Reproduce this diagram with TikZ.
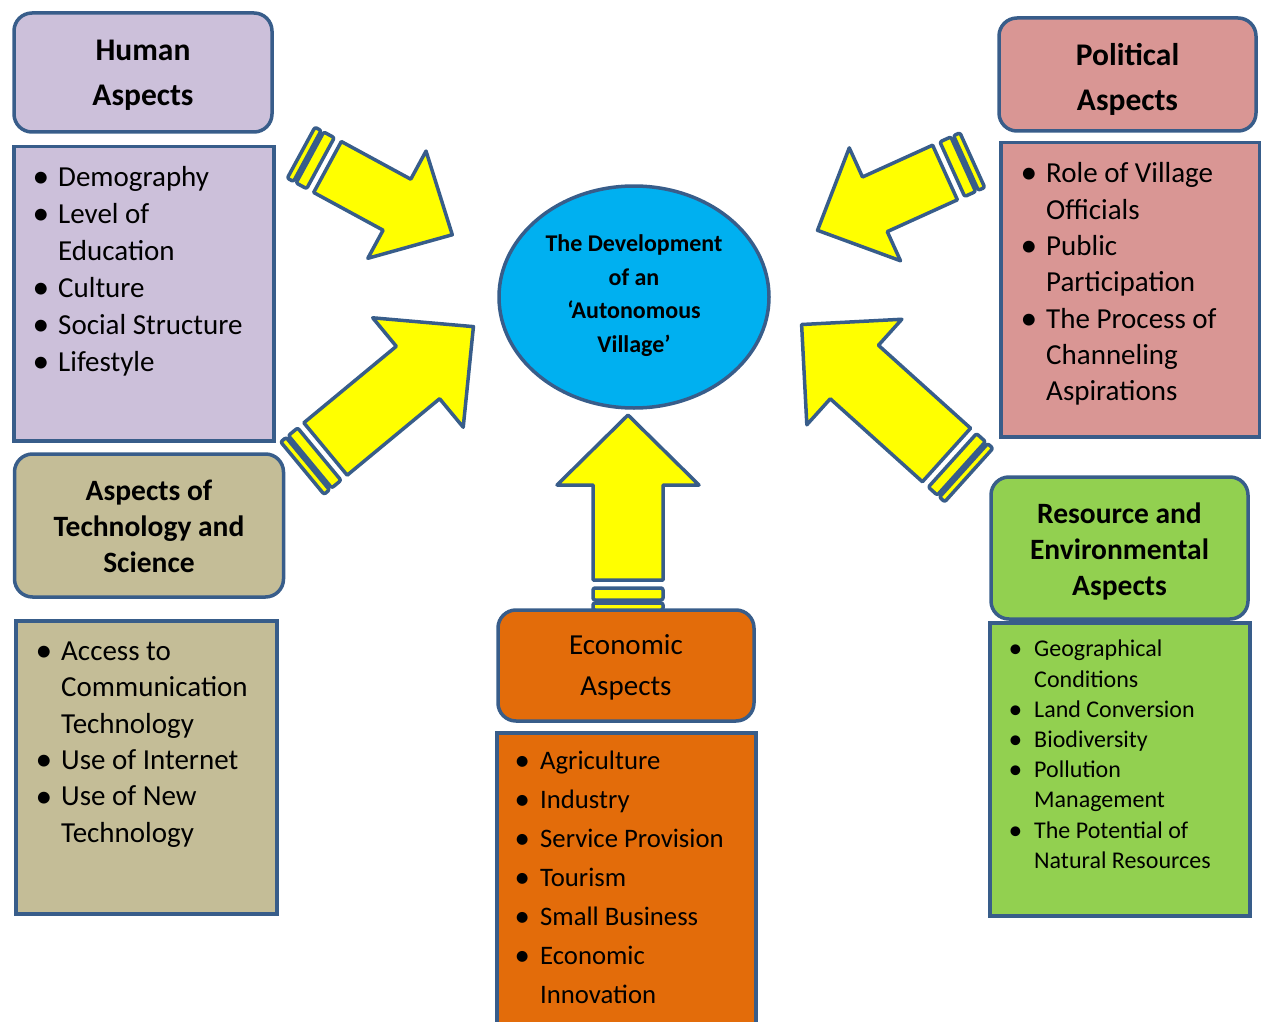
\documentclass[tikz,border=0pt]{standalone}
\usepackage{fontspec}
\setmainfont{Carlito}
\usetikzlibrary{shapes.geometric}
\definecolor{edgeblue}{RGB}{56,93,138}
\definecolor{humanfill}{RGB}{204,192,218}
\definecolor{polfill}{RGB}{217,150,148}
\definecolor{techfill}{RGB}{196,189,151}
\definecolor{resfill}{RGB}{146,208,80}
\definecolor{ecofill}{RGB}{227,108,10}
\definecolor{villagefill}{RGB}{0,176,240}
\definecolor{arrowfill}{RGB}{255,255,0}

\newcommand{\bul}{\makebox[22pt][l]{\hspace*{-3.5pt}\raisebox{-0.04em}{\scalebox{1.15}{\textbullet}}}}
\newcommand{\ind}{\hspace*{22pt}}
% block arrow: tail x, tail y, angle, length, shaft half, head half, head length
\newcommand{\yarrow}[7]{%
  \begin{scope}[shift={(#1,#2)},rotate=#3]
    \draw[arrowline] (0,-#5) -- ({#4-#7},-#5) -- ({#4-#7},-#6) -- (#4,0)
      -- ({#4-#7},#6) -- ({#4-#7},#5) -- (0,#5) -- cycle;
    \draw[arrowline,rounded corners=2pt] (-8,-#5) rectangle (-20,#5);
    \draw[arrowline,rounded corners=2pt] (-23,-#5) rectangle (-30,#5);
  \end{scope}}

\tikzset{
  headbox/.style={draw=edgeblue, line width=3.5pt, rounded corners=18pt, inner sep=0pt},
  headtext/.style={align=center, inner sep=0pt, font=\bfseries\fontsize{31.5}{45}\selectfont},
  listbox/.style={draw=edgeblue, line width=3.5pt, inner sep=0pt, anchor=north west},
  listtext/.style={anchor=north west, align=left, inner sep=0pt, font=\fontsize{29}{37}\selectfont},
  arrowline/.style={draw=edgeblue, fill=arrowfill, line width=3.5pt, line join=round},
}

\begin{document}
\begin{tikzpicture}[x=1pt,y=-1pt]
  \useasboundingbox (0,0) rectangle (1261,1022);
  \clip (0,0) rectangle (1261,1022);

  % list boxes
  \node[listbox, fill=humanfill, minimum width=260, minimum height=294] (humanbox) at (12,145) {};
  \node[listbox, fill=polfill, minimum width=259, minimum height=294] (polbox) at (999,141) {};
  \node[listbox, fill=techfill, minimum width=261, minimum height=293] (techbox) at (14,619) {};
  \node[listbox, fill=resfill, minimum width=260, minimum height=293] (resbox) at (988,621) {};
  \node[listbox, fill=ecofill, minimum width=259, minimum height=320] (ecobox) at (495,731) {};

  % headers
  \node[headbox, fill=humanfill, minimum width=258, minimum height=119] (humanhead) at (143,72.5) {};
  \node[headbox, fill=polfill, minimum width=257, minimum height=113] (polhead) at (1127.5,74.5) {};
  \node[headbox, fill=techfill, minimum width=269, minimum height=143] (techhead) at (149,525.5) {};
  \node[headbox, fill=resfill, minimum width=257, minimum height=142] (reshead) at (1119.5,548) {};
  \node[headbox, fill=ecofill, minimum width=256, minimum height=111] (ecohead) at (626,665.5) {};

  \node[headtext] (humantitle) at ([yshift=-3pt]humanhead.center) {Human\\Aspects};
  \node[headtext] (poltitle) at ([yshift=-5pt]polhead.center) {Political\\Aspects};
  \node[headtext, font=\bfseries\fontsize{29.5}{36}\selectfont] (techtitle) at ([yshift=-0.5pt]techhead.center) {Aspects of\\Technology and\\Science};
  \node[headtext, font=\bfseries\fontsize{29.5}{36}\selectfont] (restitle) at ([yshift=-3.5pt]reshead.center) {Resource and\\Environmental\\Aspects};
  \node[headtext, font=\fontsize{29}{41}\selectfont] (ecotitle) at ([yshift=-2pt]ecohead.center) {Economic\\Aspects};

  % centre
  \node[ellipse, draw=edgeblue, line width=3.5pt, fill=villagefill, minimum width=270, minimum height=222,
    inner sep=0pt] (village) at (634,297) {};
  \node[align=center, inner sep=0pt, font=\bfseries\fontsize{24}{33.5}\selectfont] (villagetext)
    at ([yshift=1.5pt]village.center) {The Development\\of an\\‘Autonomous\\Village’};

  % list texts
  \node[listtext] (humanlist) at (36,166.5) {\bul Demography\\\bul Level of\\\ind Education\\\bul Culture\\\bul Social Structure\\\bul Lifestyle};
  \node[listtext, font=\fontsize{29}{36.3}\selectfont] (pollist) at (1024,162.5) {\bul Role of Village\\\ind Officials\\\bul Public\\\ind Participation\\\bul The Process of\\\ind Channeling\\\ind Aspirations};
  \node[listtext, font=\fontsize{29}{36.4}\selectfont] (techlist) at (39,641.5) {\bul Access to\\\ind Communication\\\ind Technology\\\bul Use of Internet\\\bul Use of New\\\ind Technology};
  \node[listtext, font=\fontsize{26.7}{39}\selectfont] (ecolist) at (518,751) {\bul Agriculture\\\bul Industry\\\bul Service Provision\\\bul Tourism\\\bul Small Business\\\bul Economic\\\ind Innovation};
  \node[listtext, font=\fontsize{24}{30.2}\selectfont] (reslist) at (1012,640) {\bul Geographical\\\ind Conditions\\\bul Land Conversion\\\bul Biodiversity\\\bul Pollution\\\ind Management\\\bul The Potential of\\\ind Natural Resources};

  % arrows
  \yarrow{327.5}{167}{-28.5}{142}{29}{61}{63}
  \yarrow{945}{172.5}{204.4}{140}{30}{62}{63}
  \yarrow{325.5}{449}{39.6}{192}{34}{71}{72}
  \yarrow{946.5}{455}{138}{195}{36}{71}{71}
  \yarrow{628}{580}{90}{165}{35}{71}{70}
\end{tikzpicture}
\end{document}
